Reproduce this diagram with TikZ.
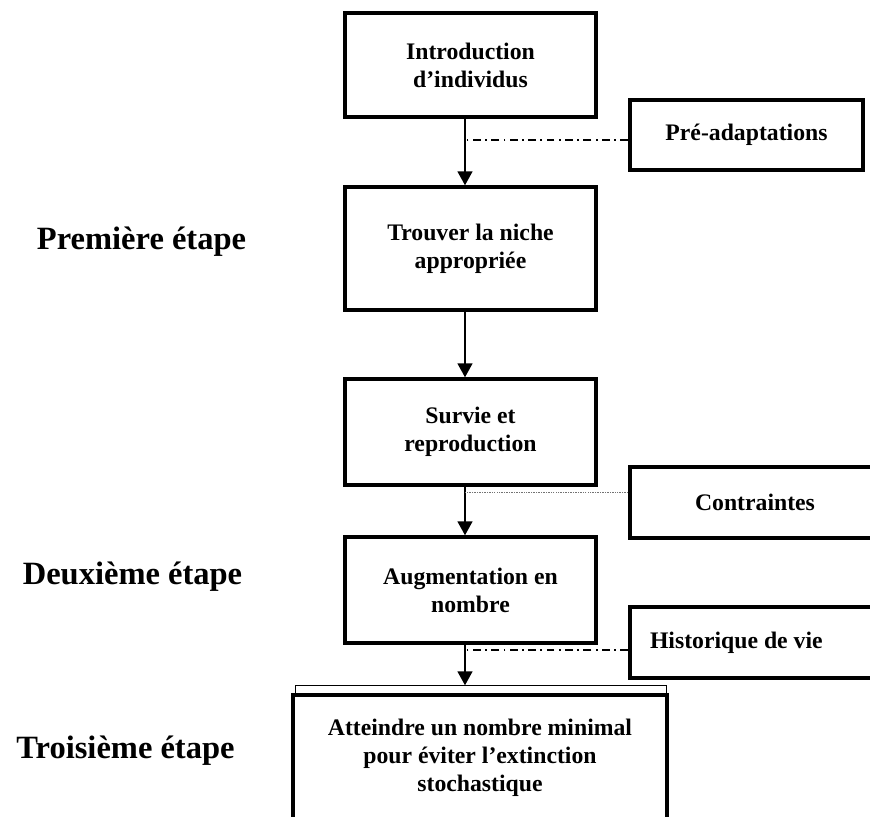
\documentclass[tikz,border=0pt]{standalone}
\usepackage{fontspec}
\setmainfont{Liberation Serif}
\usetikzlibrary{arrows.meta,calc}

\tikzset{
  boite/.style={draw, line width=2pt, align=center, inner sep=2pt,
    font=\bfseries\fontsize{13.5}{16}\selectfont},
  etiquette/.style={font=\bfseries\fontsize{18.5}{22}\selectfont},
  fleche/.style={line width=1pt, -{Triangle[width=0.3cm,length=0.28cm]}},
  tiretpoint/.style={line width=0.6pt, dash pattern=on 4.5pt off 2.5pt on 1pt off 2.5pt},
  pointille/.style={line width=0.9pt, black!55, dash pattern=on 0.8pt off 0.6pt},
}

\begin{document}
\begin{tikzpicture}[x=0.02cm, y=-0.02cm]
    \useasboundingbox (0,0) rectangle (870,816);

    % Main column
    \node[boite, minimum width=5.02cm, minimum height=2.08cm] (intro) at (470.5,65) {Introduction\\d’individus};
    \node[boite, minimum width=5.02cm, minimum height=2.46cm] (niche) at (470.5,248.5) {Trouver la niche\\appropriée};
    \node[boite, minimum width=5.02cm, minimum height=2.12cm] (survie) at (470.5,432) {Survie et\\reproduction};
    \node[boite, minimum width=5.02cm, minimum height=2.12cm] (augment) at (470.5,590) {Augmentation en\\nombre};
    \node[boite, minimum width=7.48cm, minimum height=2.5cm] (final) at (480,757.5) {Atteindre un nombre minimal\\pour éviter l’extinction\\stochastique};

    % Side boxes
    \node[boite, minimum width=4.66cm, minimum height=1.4cm] (pre) at (746.5,135) {Pré-adaptations};
    \node[boite, minimum width=5cm, minimum height=1.42cm] (contr) at (755,502.5) {Contraintes};
    \node[boite, minimum width=5cm, minimum height=1.42cm, text width=4.2cm, align=flush left] (histo) at (755,642.5) {Historique de vie};

    % Stage labels
    \node[etiquette] (etape1) at (141.5,242) {Première étape};
    \node[etiquette] (etape2) at (132.5,577) {Deuxième étape};
    \node[etiquette] (etape3) at (125.5,751) {Troisième étape};

    % Thin frame above the last box
    \draw[line width=0.6pt] ([xshift=0.08cm]final.north west) -- ++(0,-8) coordinate (cadre) -| ([xshift=-0.04cm]final.north east);

    % Arrows
    \coordinate (axe) at (465,0);
    \draw[fleche] (intro.south -| axe) -- (niche.north -| axe);
    \draw[fleche] (niche.south -| axe) -- (survie.north -| axe);
    \draw[fleche] (survie.south -| axe) -- (augment.north -| axe);
    \draw[fleche] (augment.south -| axe) -- (cadre -| axe);

    % Side links
    \coordinate (lienpre) at ($(pre.west)+(0,5)$);
    \coordinate (liencontr) at ($(contr.west)+(0,-10)$);
    \coordinate (lienhisto) at ($(histo.west)+(0,7.5)$);
    \draw[tiretpoint] (lienpre) -- (lienpre -| axe);
    \draw[pointille] (liencontr) -- (liencontr -| axe);
    \draw[tiretpoint] (lienhisto) -- (lienhisto -| axe);

\end{tikzpicture}
\end{document}
